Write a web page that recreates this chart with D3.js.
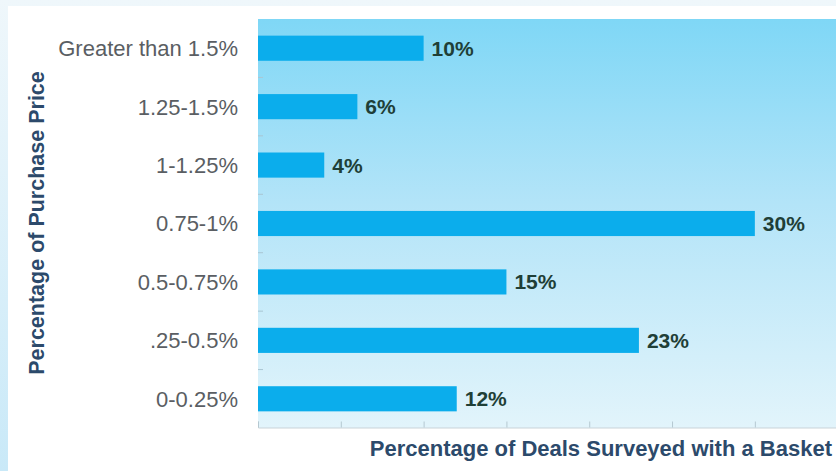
<!DOCTYPE html>
<html>
<head>
<meta charset="utf-8">
<script src="https://cdn.jsdelivr.net/npm/d3@7"></script>
<style>
  html, body { margin: 0; padding: 0; background: #ffffff; }
  svg { display: block; }
</style>
</head>
<body>
<svg id="chart" width="836" height="471"></svg>
<script>
// Price ranges (top to bottom) and the share of surveyed deals in each
const categories = ["Greater than 1.5%", "1.25-1.5%", "1-1.25%", "0.75-1%", "0.5-0.75%", ".25-0.5%", "0-0.25%"];
const values = [10, 6, 4, 30, 15, 23, 12];
const xTicks = [0, 5, 10, 15, 20, 25, 30];
const xTitle = "Percentage of Deals Surveyed with a Basket";
const yTitle = "Percentage of Purchase Price";

const W = 836, H = 471;
const plot = { left: 258, right: 836, top: 19, bottom: 428 };

const svg = d3.select("#chart");
const defs = svg.append("defs");

// outer frame: pale blue strip along the left and top
const frameGrad = defs.append("linearGradient")
  .attr("id", "frameGrad").attr("x1", 0).attr("y1", 0).attr("x2", 0).attr("y2", 1);
frameGrad.append("stop").attr("offset", "0%").attr("stop-color", "#eff7fb");
frameGrad.append("stop").attr("offset", "100%").attr("stop-color", "#c9e9f8");
svg.append("rect").attr("width", W).attr("height", H).attr("fill", "url(#frameGrad)");
svg.append("rect").attr("x", 8).attr("y", 6).attr("width", W - 8).attr("height", H - 6)
  .attr("fill", "#ffffff");

// plot area background, deep sky blue at the top fading to a pale tint
const plotGrad = defs.append("linearGradient")
  .attr("id", "plotGrad").attr("x1", 0).attr("y1", 0).attr("x2", 0).attr("y2", 1);
plotGrad.append("stop").attr("offset", "0%").attr("stop-color", "#7fd7f6");
plotGrad.append("stop").attr("offset", "45%").attr("stop-color", "#b3e4f8");
plotGrad.append("stop").attr("offset", "100%").attr("stop-color", "#e2f4fb");
svg.append("rect")
  .attr("x", plot.left).attr("y", plot.top)
  .attr("width", plot.right - plot.left).attr("height", plot.bottom - plot.top)
  .attr("fill", "url(#plotGrad)");

const x = d3.scaleLinear().domain([0, 34.9]).range([plot.left, plot.right]);
const y = d3.scaleBand().domain(categories).range([plot.top, plot.bottom])
  .paddingInner(0.57).paddingOuter(0.285);

// category boundary ticks on the left edge
const step = y.step();
svg.append("g").selectAll("line")
  .data(categories.slice(1))
  .join("line")
  .attr("x1", plot.left).attr("x2", plot.left + 5)
  .attr("y1", d => y(d) - (step - y.bandwidth()) / 2)
  .attr("y2", d => y(d) - (step - y.bandwidth()) / 2)
  .attr("stroke", "#a9c6d3").attr("stroke-width", 1);

// bottom axis: faint baseline with short inward ticks, no numbers
const xAxis = d3.axisBottom(x).tickValues(xTicks).tickSize(-6).tickFormat("");
const gx = svg.append("g").attr("transform", `translate(0,${plot.bottom - 0.5})`).call(xAxis);
gx.select(".domain").attr("stroke", "#c9d3d8");
gx.selectAll(".tick line").attr("stroke", "#b5c8d1");

// bars
svg.append("g").selectAll("rect")
  .data(categories)
  .join("rect")
  .attr("x", x(0))
  .attr("y", d => y(d))
  .attr("width", (d, i) => x(values[i]) - x(0))
  .attr("height", y.bandwidth())
  .attr("fill", "#0badec");

// value labels at the bar ends
svg.append("g").selectAll("text")
  .data(categories)
  .join("text")
  .attr("x", (d, i) => x(values[i]) + 8)
  .attr("y", d => y(d) + y.bandwidth() / 2)
  .attr("dy", "0.36em")
  .attr("font-family", "Liberation Sans, Arial, sans-serif")
  .attr("font-size", 21)
  .attr("font-weight", "bold")
  .attr("fill", "#1f3f37")
  .text((d, i) => values[i] + "%");

// category labels
svg.append("g").selectAll("text")
  .data(categories)
  .join("text")
  .attr("x", plot.left - 20)
  .attr("y", d => y(d) + y.bandwidth() / 2)
  .attr("dy", "0.36em")
  .attr("text-anchor", "end")
  .attr("font-family", "Liberation Sans, Arial, sans-serif")
  .attr("font-size", 22)
  .attr("fill", "#5a5e63")
  .text(d => d);

// axis titles
svg.append("text")
  .attr("x", 832).attr("y", 456)
  .attr("text-anchor", "end")
  .attr("font-family", "Liberation Sans, Arial, sans-serif")
  .attr("font-size", 22)
  .attr("font-weight", "bold")
  .attr("fill", "#2c4a6b")
  .text(xTitle);

svg.append("text")
  .attr("transform", "translate(44,223) rotate(-90)")
  .attr("text-anchor", "middle")
  .attr("font-family", "Liberation Sans, Arial, sans-serif")
  .attr("font-size", 21.5)
  .attr("font-weight", "bold")
  .attr("fill", "#2c4a6b")
  .text(yTitle);
</script>
</body>
</html>
